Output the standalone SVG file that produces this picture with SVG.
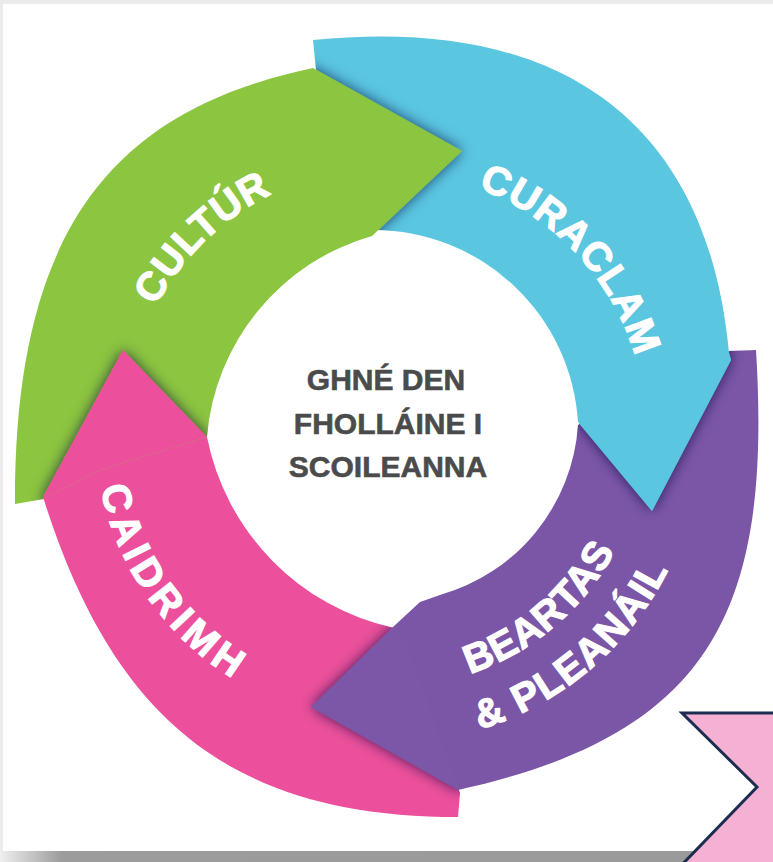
<svg xmlns="http://www.w3.org/2000/svg" width="773" height="862" viewBox="0 0 773 862">
<defs>
<style>
.lbl{font-family:"Liberation Sans",Arial,sans-serif;font-weight:bold;font-size:40px;fill:#ffffff;stroke:#ffffff;stroke-width:1.2px}
.ctr{font-family:"Liberation Sans",Arial,sans-serif;font-weight:bold;font-size:30px;fill:#4b4b4b;stroke:#4b4b4b;stroke-width:0.6px;text-anchor:middle}
.green{fill:#8cc540}
.cyan{fill:#5ac6e0}
.purple{fill:#7b56a7}
.pink{fill:#ec509c}
</style>
<filter id="shadow" x="-30%" y="-30%" width="160%" height="160%">
<feDropShadow dx="0" dy="0" stdDeviation="7" flood-color="#14143a" flood-opacity="0.7"/>
</filter>
<linearGradient id="band" x1="0" y1="0" x2="773" y2="0" gradientUnits="userSpaceOnUse">
<stop offset="0" stop-color="#efefef"/>
<stop offset="0.08" stop-color="#9c9c9c"/>
<stop offset="1" stop-color="#9a9a9a"/>
</linearGradient>
<path id="shpGreen" d="M15,504 C14,224 117.4,109.4 313,68 L462,151 L372,236 A228 228 0 0 0 207,437 L100,470 L44,499 Z"/>
<path id="shpCyan" d="M313,40 C573,14 709,133 729,353 L731,360 L652,511 L578,422 A205 205 0 0 0 374,230 L316,70 Z"/>
<path id="shpPurple" d="M756,350 C772,610 712,734 458,790 L311,707 L393,627 L420,602 L440,595 A190 190 0 0 0 578,425 L700,352 Z"/>
<path id="shpPink" d="M123,350 L43,497 C112,716 228,817 458,817 L460,793 L405,640 L394,628 A244 244 0 0 1 207,437 Z"/>
<clipPath id="clipGreen"><use href="#shpGreen"/></clipPath>
<clipPath id="clipCyan"><use href="#shpCyan"/></clipPath>
<clipPath id="clipPurple"><use href="#shpPurple"/></clipPath>
<clipPath id="clipPink"><use href="#shpPink"/></clipPath>
<path id="arcCultur" d="M170,577.1 A263 263 0 0 1 542.6,217.2"/>
<path id="arcCuraclam" d="M247.5,213.6 A258 258 0 0 1 594,585.3"/>
<path id="arcCaidrimh" d="M180.1,223.6 A293 293 0 0 0 512.8,695.1"/>
<path id="arcBeartas" d="M224.3,627.2 A256 256 0 0 0 609.1,300.7"/>
<path id="arcPleanail" d="M188.5,671.2 A313 313 0 0 0 658,271.6"/>
</defs>

<rect x="0" y="0" width="773" height="862" fill="#ffffff"/>
<rect x="0" y="0" width="773" height="4" fill="#ebebeb"/>
<rect x="0" y="0" width="3" height="862" fill="#ebebeb"/>
<rect x="0" y="851" width="773" height="11" fill="url(#band)"/>

<g id="node-caidrimh">
<use href="#shpPink" class="pink"/>
<text class="lbl" letter-spacing="5.5"><textPath href="#arcCaidrimh" startOffset="50%" text-anchor="middle">CAIDRIMH</textPath></text>
</g>

<g id="node-beartas">
<use href="#shpPurple" class="purple"/>
<text class="lbl"><textPath href="#arcBeartas" startOffset="50%" text-anchor="middle" letter-spacing="0.7">BEARTAS</textPath><textPath href="#arcPleanail" startOffset="50%" text-anchor="middle" letter-spacing="1.5">&amp; PLEANÁIL</textPath></text>
</g>

<g id="node-curaclam">
<use href="#shpCyan" class="cyan"/>
<text class="lbl" letter-spacing="1.1"><textPath href="#arcCuraclam" startOffset="50%" text-anchor="middle">CURACLAM</textPath></text>
</g>

<g id="node-cultur">
<use href="#shpGreen" class="green"/>
<text class="lbl" letter-spacing="0.5"><textPath href="#arcCultur" startOffset="50%" text-anchor="middle">CULTÚR</textPath></text>
</g>

<g id="connectors">
<g clip-path="url(#clipGreen)"><use href="#shpPink" class="pink" filter="url(#shadow)"/></g>
<g clip-path="url(#clipPink)"><use href="#shpPurple" class="purple" filter="url(#shadow)"/></g>
<g clip-path="url(#clipPurple)"><use href="#shpCyan" class="cyan" filter="url(#shadow)"/></g>
<g clip-path="url(#clipCyan)"><use href="#shpGreen" class="green" filter="url(#shadow)"/></g>
</g>

<g id="node-center">
<text class="ctr" x="386" y="390">GHNÉ DEN</text>
<text class="ctr" x="388" y="434">FHOLLÁINE I</text>
<text class="ctr" x="388" y="477">SCOILEANNA</text>
</g>

<g id="node-next">
<polygon points="682,713 790,713 790,875 672,875 757,787" fill="#f5b1d4" stroke="#1c2d4f" stroke-width="3" stroke-linejoin="miter"/>
</g>
</svg>
